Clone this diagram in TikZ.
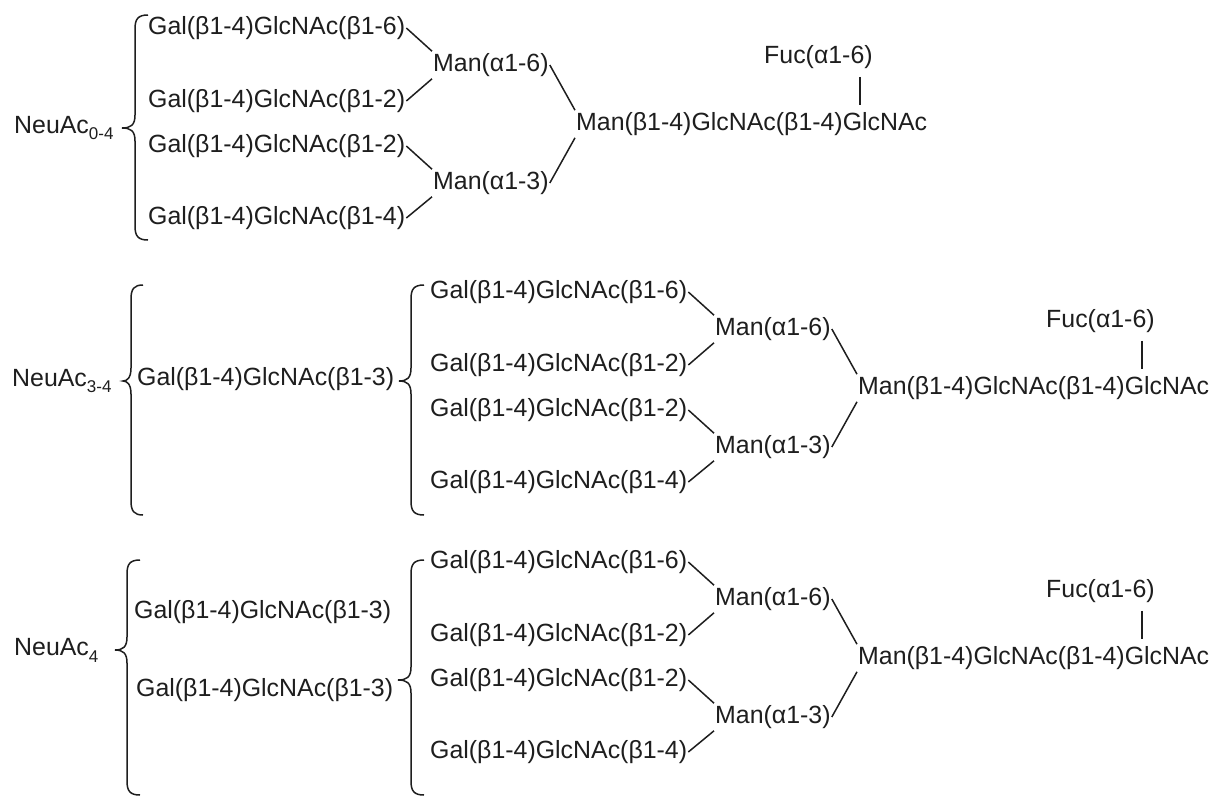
\documentclass[tikz,border=0pt]{standalone}
\usepackage{fontspec}
\setmainfont{Liberation Sans}
\definecolor{ink}{HTML}{1E1E1E}
\newcommand\glyfont{\fontsize{24.9}{29}\selectfont}
% small lowered index for the sialic acid count
\newcommand\glysub[1]{\raisebox{-0.28em}{\fontsize{17}{20}\selectfont #1}}
% curly bracket: spine x, tip x, curl-end x, top y, tip y, bottom y
\newcommand\glybrace[6]{%
  \draw[bracket] (#3,#4) .. controls (#1+3,#4) and (#1,#4+4) .. (#1,#4+14)
    -- (#1,#5-13) .. controls (#1,#5-3) and (#1-4,#5) .. (#2,#5)
    .. controls (#1-4,#5) and (#1,#5+3) .. (#1,#5+13)
    -- (#1,#6-14) .. controls (#1,#6-4) and (#1+3,#6) .. (#3,#6);}
\tikzset{
  sugar/.style={inner xsep=1pt, inner ysep=2pt, anchor=west, font=\glyfont, text=ink},
  link/.style={draw=ink, line width=1.5pt},
  bracket/.style={draw=ink, line width=1.5pt},
  % four antennae, two branching mannoses and the fucosylated chitobiose core
  pics/nglycan/.style={code={
    \node[sugar] (-r1) at (0,0)   {Gal(β1-4)GlcNAc(β1-6)};
    \node[sugar] (-r2) at (0,73)  {Gal(β1-4)GlcNAc(β1-2)};
    \node[sugar] (-r3) at (0,118) {Gal(β1-4)GlcNAc(β1-2)};
    \node[sugar] (-r4) at (0,190) {Gal(β1-4)GlcNAc(β1-4)};
    \node[sugar] (-m6) at (285,37)  {Man(α1-6)};
    \node[sugar] (-m3) at (285,155) {Man(α1-3)};
    \node[sugar] (-core) at (428,96) {Man(β1-4)GlcNAc(β1-4)GlcNAc};
    \node[sugar] (-fuc) at (616,29) {Fuc(α1-6)};
    \coordinate (-fb) at ([xshift=-14pt]-fuc.south east);
    \draw[link] (-r1.east) -- (-m6.north west);
    \draw[link] (-r2.east) -- (-m6.south west);
    \draw[link] (-r3.east) -- (-m3.north west);
    \draw[link] (-r4.east) -- (-m3.south west);
    \draw[link] (-m6.east) -- (-core.north west);
    \draw[link] (-m3.east) -- (-core.south west);
    \draw[link, shorten <=6pt, shorten >=5pt] (-fb) -- (-fb |- -core.north);
  }}
}
\begin{document}
\begin{tikzpicture}[x=1pt, y=-1pt]
  \fill[white] (0,0) rectangle (1211,801);
  \useasboundingbox (0,0) rectangle (1211,801);

  % NeuAc 0-4
  \node[sugar] (n1) at (13,128) {NeuAc\glysub{0-4}};
  \glybrace{135}{122}{148}{15}{128}{240}
  \pic (A) at (147,28) {nglycan};

  % NeuAc 3-4
  \node[sugar] (n2) at (11,381) {NeuAc\glysub{3-4}};
  \glybrace{131}{123}{143}{285}{381}{515}
  \node[sugar] (g2) at (136,379) {Gal(β1-4)GlcNAc(β1-3)};
  \glybrace{411}{399}{424}{285}{381}{515}
  \pic (B) at (429,292) {nglycan};

  % NeuAc 4
  \node[sugar] (n3) at (13,650) {NeuAc\glysub{4}};
  \glybrace{127}{115}{140}{560}{650}{795}
  \node[sugar] (g3a) at (133,612) {Gal(β1-4)GlcNAc(β1-3)};
  \node[sugar] (g3b) at (135,690) {Gal(β1-4)GlcNAc(β1-3)};
  \glybrace{411}{398}{424}{560}{680}{795}
  \pic (C) at (429,562) {nglycan};
\end{tikzpicture}
\end{document}
